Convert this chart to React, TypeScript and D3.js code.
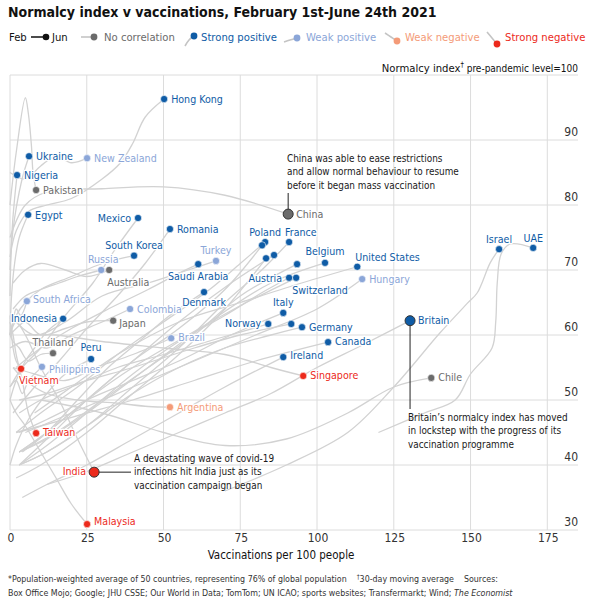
import { useEffect, useRef } from "react";
import * as d3 from "d3";

// Country, correlation group, and June position (vaccinations per 100, normalcy index)
const countries = [
  "Hong Kong", "Ukraine", "Nigeria", "Egypt", "Mexico", "Romania", "Poland", "Spain",
  "France", "Netherlands", "Portugal", "Belgium", "United States", "Saudi Arabia", "Austria",
  "Switzerland", "South Korea", "Israel", "UAE", "Britain", "Germany", "Canada", "Ireland",
  "Denmark", "Italy", "Norway", "Sweden", "Indonesia", "Peru", "Czech Republic",
  "New Zealand", "Hungary", "Turkey", "Russia", "South Africa", "Colombia", "Brazil", "Philippines",
  "Pakistan", "China", "Australia", "Chile", "Japan", "Thailand",
  "Argentina",
  "Singapore", "Vietnam", "Taiwan", "India", "Malaysia",
];

const groups = [
  "sp", "sp", "sp", "sp", "sp", "sp", "sp", "sp",
  "sp", "sp", "sp", "sp", "sp", "sp", "sp",
  "sp", "sp", "sp", "sp", "sp", "sp", "sp", "sp",
  "sp", "sp", "sp", "sp", "sp", "sp", "sp",
  "wp", "wp", "wp", "wp", "wp", "wp", "wp", "wp",
  "nc", "nc", "nc", "nc", "nc", "nc",
  "wn",
  "sn", "sn", "sn", "sn", "sn",
];

const vaccJun = [
  50.2, 6.2, 2.3, 5.9, 41.7, 52.1, 83.1, 82.1,
  90.9, 83.4, 86, 102.6, 113.1, 61.3, 90.9,
  93.2, 40.4, 159.3, 170.4, 130.3, 95.1, 103.6, 89,
  63.2, 89, 84.1, 91.6, 17.3, 26.4, 93.5,
  25.1, 114.7, 67.1, 29.7, 5.5, 39.1, 52.5, 10.4,
  8.5, 90.6, 32.3, 137.2, 33.6, 14,
  52.1,
  95.5, 3.6, 8.5, 27.4, 25.1,
];

const normalcyJun = [
  96.3, 87.5, 84.6, 78.5, 78, 76.3, 74.3, 73.8,
  74.3, 71.8, 72.3, 71.1, 70.5, 70.9, 68.8,
  68.8, 72.2, 73.2, 73.4, 62.2, 61.2, 58.9, 56.6,
  66.6, 63.4, 61.7, 61.7, 62.5, 56.3, 70.9,
  87.2, 68.6, 71.4, 70, 65.2, 64, 59.5, 55.1,
  82.3, 78.6, 70, 53.4, 62.2, 57.2,
  48.9,
  53.7, 54.8, 44.9, 38.9, 30.9,
];

// Earlier readings, February onwards (the June point above closes each path)
const trajectories: [number, number][][] = [
  [[0, 72], [2, 76], [6, 79], [12, 80], [20, 81], [30, 84], [36, 86.5], [40, 89.5], [44, 93.5]],
  [[0, 70], [0.5, 74], [1.5, 78], [3, 82], [4.5, 85]],
  [[0, 66], [0.3, 72], [0.8, 77], [1.5, 81]],
  [[0, 60], [0.5, 66], [1.5, 71], [3, 75]],
  [[0, 52], [4, 55], [10, 58], [18, 63], [27, 68], [34, 73]],
  [[1, 48], [8, 52], [16, 56], [25, 61], [35, 66], [44, 71]],
  [[2, 45], [10, 48], [22, 52], [35, 57], [50, 62], [65, 67], [75, 71]],
  [[3, 42], [12, 45], [25, 50], [40, 56], [55, 61], [70, 67]],
  [[3, 40], [12, 42], [25, 46], [40, 52], [55, 58], [70, 65], [82, 70]],
  [[2, 38], [10, 40], [25, 45], [40, 51], [55, 57], [70, 64]],
  [[3, 40], [12, 44], [25, 50], [40, 56], [55, 62], [72, 68]],
  [[3, 42], [12, 44], [25, 48], [45, 55], [65, 62], [85, 68]],
  [[8, 48], [20, 52], [35, 57], [55, 62], [75, 65], [95, 68]],
  [[2, 55], [10, 58], [20, 61], [32, 64], [45, 67], [55, 69.5]],
  [[3, 40], [12, 43], [25, 48], [40, 54], [55, 59], [70, 63], [82, 66.5]],
  [[3, 42], [12, 45], [25, 50], [40, 55], [58, 60], [75, 64.5]],
  [[0, 60], [2, 63], [5, 65], [10, 67], [20, 69], [30, 71]],
  [[70, 36], [90, 40], [110, 45], [125, 52], [140, 60.3], [149, 64.9], [152.2, 66.5], [156.4, 71.1]],
  [[120, 45], [135, 48], [145, 50], [150, 54], [157, 58], [158.2, 62], [158.7, 68], [160, 72.5], [163, 74]],
  [[12, 37], [25, 39], [40, 42], [55, 45], [70, 48], [85, 51], [100, 55], [115, 58.5]],
  [[3, 40], [12, 42], [25, 46], [40, 51], [55, 55], [70, 58], [85, 60]],
  [[2, 45], [10, 46], [25, 48], [40, 50], [60, 53], [80, 56]],
  [[4, 35], [12, 37], [25, 40], [40, 44], [55, 48], [70, 52]],
  [[4, 42], [12, 45], [22, 50], [32, 55], [42, 59], [52, 63]],
  [[3, 45], [12, 47], [25, 50], [40, 53], [55, 56], [72, 60]],
  [[3, 48], [10, 50], [20, 52], [35, 55], [50, 57], [68, 59.5]],
  [[3, 50], [12, 51], [25, 53], [40, 55], [60, 58], [75, 60]],
  [[0, 50], [2, 53], [5, 56], [8, 58], [12, 60.5]],
  [[0, 40], [2, 43], [6, 47], [12, 51], [18, 54]],
  [[3, 42], [15, 45], [30, 50], [45, 55], [60, 60], [75, 66]],
  [[0, 85], [5, 84], [10, 86], [15, 87.5], [20, 86.5]],
  [[5, 45], [20, 48], [40, 52], [60, 56], [80, 60], [100, 64]],
  [[2, 62], [8, 60], [18, 62], [30, 66], [45, 68], [58, 70]],
  [[1, 64], [5, 66], [10, 67], [16, 68], [22, 69]],
  [[0, 60], [1, 62], [2, 64], [3.5, 63]],
  [[0, 58], [5, 59], [12, 58], [20, 60], [30, 62]],
  [[1, 55], [8, 54], [18, 53], [28, 55], [40, 57]],
  [[0, 52], [2, 53], [4, 51], [6, 53], [8, 54]],
  [[0, 80], [2, 88], [5, 96.5], [6, 94], [7, 89], [7.5, 85]],
  [[0, 75], [5, 80], [12, 82], [30, 82.5], [50, 82.8], [70, 81.5]],
  [[1, 68], [5, 70], [10, 71], [18, 70], [25, 69]],
  [[10, 50], [30, 48], [50, 45], [70, 43], [90, 44], [110, 48], [125, 52]],
  [[0, 60], [2, 61], [5, 62], [10, 60], [18, 61], [25, 62]],
  [[0, 60], [1, 59], [3, 58], [6, 56], [10, 57]],
  [[1, 55], [5, 53], [12, 51], [22, 50], [35, 49.5], [45, 49]],
  [[5, 60], [15, 60], [30, 59], [50, 58], [70, 57], [85, 55]],
  [[0, 63], [0.5, 60], [1, 58], [2, 56]],
  [[0, 62], [1, 60], [2, 57], [4, 53], [6, 48]],
  [[0, 60], [2, 62], [5, 60], [10, 55], [16, 50], [22, 44]],
  [[0, 50], [2, 48], [5, 46], [10, 42], [15, 38], [20, 34]],
];

const xTicks = [0, 25, 50, 75, 100, 125, 150, 175];
const yTicks = [30, 40, 50, 60, 70, 80, 90];
const gridY = [30, 40, 50, 60, 70, 80, 90, 100];

const unlabelled = ["Spain", "Netherlands", "Portugal", "Sweden", "Czech Republic"];
const highlighted = ["China", "Britain", "India"];

const chinaNote = [
  "China was able to ease restrictions",
  "and allow normal behaviour to resume",
  "before it began mass vaccination",
];
const britainNote = [
  "Britain\u2019s normalcy index has moved",
  "in lockstep with the progress of its",
  "vaccination programme",
];
const indiaNote = [
  "A devastating wave of covid-19",
  "infections hit India just as its",
  "vaccination campaign began",
];

const colors: Record<string, string> = {
  sp: "#0f5ca6",
  wp: "#8ba6d8",
  nc: "#6b6b6b",
  wn: "#f49b78",
  sn: "#ec2a1c",
};

// label placement: anchor, dx, dy (pixels from the dot)
const labelPos: Record<string, [string, number, number]> = {
  "Hong Kong": ["start", 7, 0],
  Ukraine: ["start", 7, 0],
  "New Zealand": ["start", 7, 0],
  Nigeria: ["start", 7, 0],
  Pakistan: ["start", 7, 0],
  Egypt: ["start", 7, 0],
  Mexico: ["end", -7, 0],
  China: ["start", 8, 0],
  Romania: ["start", 7, 0],
  Poland: ["middle", 0, -10],
  France: ["start", -4, -10],
  Belgium: ["middle", 0, -12],
  "United States": ["start", -2, -10],
  Hungary: ["start", 7, 0],
  Turkey: ["middle", 0, -11],
  "Saudi Arabia": ["middle", 0, 12],
  Austria: ["end", -7, 0],
  Switzerland: ["start", -4, 12],
  "South Korea": ["middle", 0, -11],
  Russia: ["middle", 2, -11],
  Australia: ["start", -2, 12],
  Israel: ["middle", 0, -10],
  UAE: ["middle", 0, -10],
  Britain: ["start", 8, -1],
  Germany: ["start", 7, 0],
  Canada: ["start", 7, -1],
  Ireland: ["start", 7, -2],
  Singapore: ["start", 7, -1],
  Chile: ["start", 7, -1],
  Denmark: ["middle", 0, 10],
  Italy: ["middle", 0, -11],
  Norway: ["end", -7, -1],
  "South Africa": ["start", 6, -2],
  Indonesia: ["end", -6, -1],
  Colombia: ["start", 7, 0],
  Japan: ["start", 6, 2],
  Brazil: ["start", 7, -1],
  Thailand: ["middle", 0, -11],
  Peru: ["middle", 0, -12],
  Philippines: ["start", 7, 2],
  Vietnam: ["start", -2, 11],
  Argentina: ["start", 7, 0],
  Taiwan: ["start", 7, -1],
  India: ["end", -8, -1],
  Malaysia: ["start", 7, -3],
};

const FONT = "'Liberation Sans Narrow', 'DejaVu Sans Condensed', 'Roboto', sans-serif";

export default function App() {
  const svgRef = useRef<SVGSVGElement>(null);

  useEffect(() => {
    if (!svgRef.current) return;
    const svg = d3.select(svgRef.current);
    svg.selectAll("*").remove();
    svg.attr("font-family", FONT);

    const x = d3.scaleLinear().domain([0, 185]).range([10, 578]);
    const y = d3.scaleLinear().domain([30, 100]).range([530, 75]);

    // Title
    svg.append("text")
      .attr("x", 8)
      .attr("y", 17)
      .attr("font-size", 14)
      .attr("font-weight", "bold")
      .attr("fill", "#111")
      .text("Normalcy index v vaccinations, February 1st-June 24th 2021");

    // Legend
    const lg = svg.append("g");
    const ly = 37;
    const lfs = 11.2;
    lg.append("text").attr("x", 9).attr("y", ly + 4).attr("font-size", lfs).attr("fill", "#111").text("Feb");
    lg.append("line").attr("x1", 31).attr("x2", 45).attr("y1", ly).attr("y2", ly).attr("stroke", "#111").attr("stroke-width", 1.5);
    lg.append("circle").attr("cx", 46).attr("cy", ly).attr("r", 3.3).attr("fill", "#111");
    lg.append("text").attr("x", 52).attr("y", ly + 4).attr("font-size", lfs).attr("fill", "#111").text("Jun");

    const legendItems: { key: string; text: string; path: [number, number][]; tx: number }[] = [
      { key: "nc", text: "No correlation", path: [[81, ly], [94, ly]], tx: 104 },
      { key: "sp", text: "Strong positive", path: [[185, 46], [189, 40], [194, 36]], tx: 201 },
      { key: "wp", text: "Weak positive", path: [[284, 42], [290, 40], [297, 38]], tx: 306 },
      { key: "wn", text: "Weak negative", path: [[385, 33], [391, 37], [397, 41]], tx: 405 },
      { key: "sn", text: "Strong negative", path: [[487, 32], [492, 38], [497, 44]], tx: 505 },
    ];
    const legendLine = d3.line().curve(d3.curveCatmullRom);
    legendItems.forEach((it) => {
      lg.append("path").attr("d", legendLine(it.path)).attr("fill", "none").attr("stroke", "#c4c4c4").attr("stroke-width", 1.6);
      const last = it.path[it.path.length - 1];
      lg.append("circle").attr("cx", last[0]).attr("cy", last[1]).attr("r", 3.4).attr("fill", colors[it.key]);
      lg.append("text").attr("x", it.tx).attr("y", ly + 4).attr("font-size", lfs).attr("fill", colors[it.key]).text(it.text);
    });

    // Y axis header
    const hdr = svg.append("text").attr("x", 578).attr("y", 72).attr("text-anchor", "end").attr("fill", "#111");
    hdr.append("tspan").attr("font-size", 11.2).text("Normalcy index");
    hdr.append("tspan").attr("font-size", 7.5).attr("dy", -5).text("\u2020");
    hdr.append("tspan").attr("font-size", 10).attr("dy", 5).text(" pre-pandemic level=100");

    // Grid
    const grid = svg.append("g").attr("stroke", "#dcdcdc").attr("stroke-width", 1);
    grid.selectAll(".hg").data(gridY).enter().append("line")
      .attr("x1", x(0)).attr("x2", 578)
      .attr("y1", (d) => y(d)).attr("y2", (d) => y(d));
    grid.selectAll(".vg").data(xTicks).enter().append("line")
      .attr("x1", (d) => x(d)).attr("x2", (d) => x(d))
      .attr("y1", y(100)).attr("y2", y(30));

    // Axis labels
    svg.append("g").selectAll("text").data(yTicks).enter().append("text")
      .attr("x", 578).attr("y", (d) => y(d) - 4)
      .attr("text-anchor", "end").attr("font-size", 12).attr("fill", "#333")
      .text((d) => d);
    svg.append("g").selectAll("text").data(xTicks).enter().append("text")
      .attr("x", (d) => x(d) + 1).attr("y", 542)
      .attr("text-anchor", "middle").attr("font-size", 12).attr("fill", "#333")
      .text((d) => d);
    svg.append("text")
      .attr("x", 281).attr("y", 559).attr("text-anchor", "middle")
      .attr("font-size", 11.5).attr("fill", "#111")
      .text("Vaccinations per 100 people");

    // Trajectories
    const line = d3.line<[number, number]>()
      .x((d) => x(d[0]))
      .y((d) => y(d[1]))
      .curve(d3.curveCatmullRom.alpha(0.5));
    svg.append("g").selectAll("path").data(countries).enter().append("path")
      .attr("d", (_, i) => line([...trajectories[i], [vaccJun[i], normalcyJun[i]]]))
      .attr("fill", "none").attr("stroke", "#d2d2d2").attr("stroke-width", 1.3);

    // Annotations
    const note = (lines: string[], tx: number, ty: number) => {
      const t = svg.append("text").attr("font-size", 9.9).attr("fill", "#1a1a1a");
      lines.forEach((s, k) => t.append("tspan").attr("x", tx).attr("y", ty + k * 13.3).text(s));
    };
    const iC = countries.indexOf("China");
    const iB = countries.indexOf("Britain");
    const iI = countries.indexOf("India");
    svg.append("line")
      .attr("x1", x(vaccJun[iC])).attr("x2", x(vaccJun[iC]))
      .attr("y1", 193).attr("y2", y(normalcyJun[iC]))
      .attr("stroke", "#222").attr("stroke-width", 1);
    note(chinaNote, 287, 162);
    svg.append("line")
      .attr("x1", x(vaccJun[iB])).attr("x2", x(vaccJun[iB]))
      .attr("y1", y(normalcyJun[iB])).attr("y2", 409)
      .attr("stroke", "#222").attr("stroke-width", 1);
    note(britainNote, 408, 421);
    svg.append("line")
      .attr("x1", x(vaccJun[iI])).attr("x2", 131)
      .attr("y1", y(normalcyJun[iI])).attr("y2", y(normalcyJun[iI]))
      .attr("stroke", "#222").attr("stroke-width", 1);
    note(indiaNote, 134, 462);

    // Dots
    svg.append("g").selectAll("circle").data(countries).enter().append("circle")
      .attr("cx", (_, i) => x(vaccJun[i]))
      .attr("cy", (_, i) => y(normalcyJun[i]))
      .attr("r", (d) => (highlighted.includes(d) ? 5 : 3.6))
      .attr("fill", (_, i) => colors[groups[i]])
      .attr("stroke", (d) => (highlighted.includes(d) ? "#333" : "#fff"))
      .attr("stroke-width", (d) => (highlighted.includes(d) ? 1 : 0.6));

    // Labels
    svg.append("g").selectAll("text")
      .data(countries.filter((c) => !unlabelled.includes(c)))
      .enter().append("text")
      .attr("x", (d) => x(vaccJun[countries.indexOf(d)]) + (labelPos[d] ? labelPos[d][1] : 7))
      .attr("y", (d) => y(normalcyJun[countries.indexOf(d)]) + (labelPos[d] ? labelPos[d][2] : 0) + 4)
      .attr("text-anchor", (d) => (labelPos[d] ? labelPos[d][0] : "start"))
      .attr("font-size", 10.6)
      .attr("fill", (d) => colors[groups[countries.indexOf(d)]])
      .attr("stroke", "#fff").attr("stroke-width", 2.5).attr("paint-order", "stroke")
      .attr("stroke-linejoin", "round")
      .text((d) => d);

    // Footnote
    const fn = svg.append("g").attr("font-size", 8.8).attr("fill", "#333");
    const f1 = fn.append("text").attr("x", 8).attr("y", 582);
    f1.append("tspan").text("*Population-weighted average of 50 countries, representing 76% of global population");
    f1.append("tspan").attr("dx", 10).attr("font-size", 6.5).attr("dy", -3).text("\u2020");
    f1.append("tspan").attr("dy", 3).text("30-day moving average");
    f1.append("tspan").attr("dx", 10).text("Sources:");
    const f2 = fn.append("text").attr("x", 8).attr("y", 596);
    f2.append("tspan").text("Box Office Mojo; Google; JHU CSSE; Our World in Data; TomTom; UN ICAO; sports websites; Transfermarkt; Wind; ");
    f2.append("tspan").attr("font-style", "italic").text("The Economist");
  }, []);

  return (
    <svg
      ref={svgRef}
      width={600}
      height={604}
      style={{ position: "absolute", left: 0, top: 0, background: "#fff" }}
    />
  );
}
